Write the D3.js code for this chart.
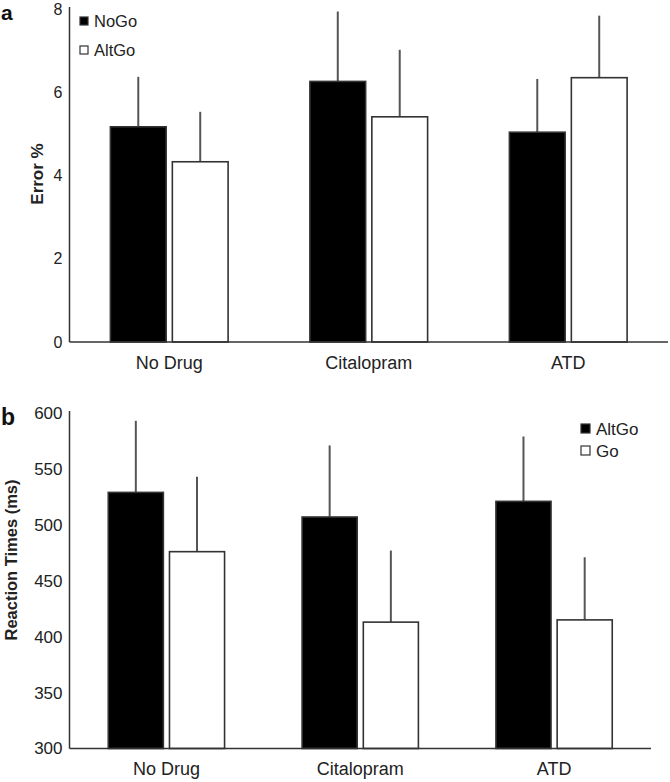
<!DOCTYPE html>
<html>
<head>
<meta charset="utf-8">
<script src="https://cdn.jsdelivr.net/npm/d3@7"></script>
<style>
  html, body { margin: 0; padding: 0; background: #fff; }
  svg { display: block; font-family: "Liberation Sans", Arial, Helvetica, sans-serif; }
</style>
</head>
<body>
<svg id="chart" width="670" height="782"></svg>
<script>
// ---- Data ----
const categories = ["No Drug", "Citalopram", "ATD"];

// Panel a: Error %
const seriesA = ["NoGo", "AltGo"];
const errNoGo = [5.17, 6.26, 5.04];
const errNoGoSE = [1.20, 1.68, 1.28];
const errAltGo = [4.33, 5.41, 6.35];
const errAltGoSE = [1.20, 1.61, 1.49];
const ticksA = [0, 2, 4, 6, 8];

// Panel b: Reaction Times (ms)
const seriesB = ["AltGo", "Go"];
const rtAltGo = [529, 507, 521];
const rtAltGoSE = [64, 64, 58];
const rtGo = [476, 413, 415];
const rtGoSE = [67, 64, 56];
const ticksB = [300, 350, 400, 450, 500, 550, 600];

const svg = d3.select("#chart");
const axisColor = "#333";

function panel(cfg) {
  const g = svg.append("g");
  const x0 = d3.scaleBand().domain(categories).range(cfg.xRange)
    .paddingInner(cfg.pi).paddingOuter(cfg.po);
  const x1 = d3.scaleBand().domain(cfg.series).range([0, x0.bandwidth()]).paddingInner(0.1);
  const y = d3.scaleLinear().domain(cfg.yDomain).range(cfg.yRange);

  const fills = ["#000", "#fff"];
  const data = [];
  categories.forEach((c, i) => {
    cfg.series.forEach((s, j) => {
      data.push({ c, s, j, v: cfg.values[j][i], e: cfg.errs[j][i] });
    });
  });

  // error bars (drawn first, then bars on top)
  g.selectAll("line.err").data(data).join("line")
    .attr("class", "err")
    .attr("x1", d => x0(d.c) + x1(d.s) + x1.bandwidth() / 2)
    .attr("x2", d => x0(d.c) + x1(d.s) + x1.bandwidth() / 2)
    .attr("y1", d => y(d.v))
    .attr("y2", d => y(d.v + d.e))
    .attr("stroke", "#555")
    .attr("stroke-width", 2);

  g.selectAll("rect.bar").data(data).join("rect")
    .attr("class", "bar")
    .attr("x", d => x0(d.c) + x1(d.s))
    .attr("width", x1.bandwidth())
    .attr("y", d => y(d.v))
    .attr("height", d => y(cfg.yDomain[0]) - y(d.v))
    .attr("fill", d => fills[d.j])
    .attr("stroke", "#333")
    .attr("stroke-width", 1.6);

  // y axis
  const yAxis = d3.axisLeft(y).tickValues(cfg.ticks).tickSize(0).tickPadding(7);
  const ya = g.append("g").attr("transform", `translate(${cfg.xRange[0]},0)`).call(yAxis);
  ya.select(".domain").attr("stroke", axisColor).attr("stroke-width", 1.5)
    .attr("d", `M0,${cfg.yRange[1] - 2}V${cfg.yRange[0]}`);
  ya.selectAll("text").attr("font-size", cfg.tickFont).attr("fill", "#222")
    .attr("font-family", "Liberation Sans, Arial, sans-serif");

  // x axis
  const xAxis = d3.axisBottom(x0).tickSize(0).tickPadding(cfg.xPad);
  const xa = g.append("g").attr("transform", `translate(0,${cfg.yRange[0]})`).call(xAxis);
  xa.select(".domain").attr("stroke", axisColor).attr("stroke-width", 1.5)
    .attr("d", `M${cfg.xRange[0]},0H${cfg.xRange[1]}`);
  xa.selectAll("text").attr("font-size", 18).attr("fill", "#222")
    .attr("font-family", "Liberation Sans, Arial, sans-serif");

  // axis title
  g.append("text")
    .attr("transform", `translate(${cfg.titleX},${cfg.titleY}) rotate(-90)`)
    .attr("text-anchor", "middle")
    .attr("font-weight", "bold")
    .attr("font-size", cfg.titleFont)
    .attr("fill", "#222")
    .text(cfg.title);

  // panel letter
  g.append("text")
    .attr("x", 1).attr("y", cfg.letterY)
    .attr("font-weight", "bold").attr("font-size", cfg.letterFont).attr("fill", "#111")
    .text(cfg.letter);

  // legend
  cfg.series.forEach((s, j) => {
    const lg = g.append("g").attr("transform", `translate(${cfg.legX},${cfg.legY + j * cfg.legStep})`);
    lg.append("rect").attr("x", 0).attr("y", -cfg.sq).attr("width", cfg.sq).attr("height", cfg.sq)
      .attr("fill", fills[j]).attr("stroke", "#333").attr("stroke-width", 1.2);
    lg.append("text").attr("x", cfg.sq + 6).attr("y", 2)
      .attr("font-size", cfg.legFont).attr("fill", "#222").text(s);
  });
}

panel({
  letter: "a", letterY: 20, letterFont: 21,
  series: seriesA,
  values: [errNoGo, errAltGo],
  errs: [errNoGoSE, errAltGoSE],
  yDomain: [0, 8], yRange: [342, 9],
  ticks: ticksA, tickFont: 16,
  xRange: [69.5, 668], pi: 0.41, po: 0.205, xPad: 14,
  title: "Error %", titleX: 43, titleY: 174, titleFont: 17,
  legX: 80, legY: 25, legStep: 29, sq: 8, legFont: 16.5
});

panel({
  letter: "b", letterY: 425, letterFont: 23,
  series: seriesB,
  values: [rtAltGo, rtGo],
  errs: [rtAltGoSE, rtGoSE],
  yDomain: [300, 600], yRange: [748.5, 413],
  ticks: ticksB, tickFont: 17,
  xRange: [69.5, 651], pi: 0.40, po: 0.20, xPad: 14,
  title: "Reaction Times (ms)", titleX: 17, titleY: 560, titleFont: 16.5,
  legX: 581, legY: 433, legStep: 22, sq: 9, legFont: 17
});
</script>
</body>
</html>
